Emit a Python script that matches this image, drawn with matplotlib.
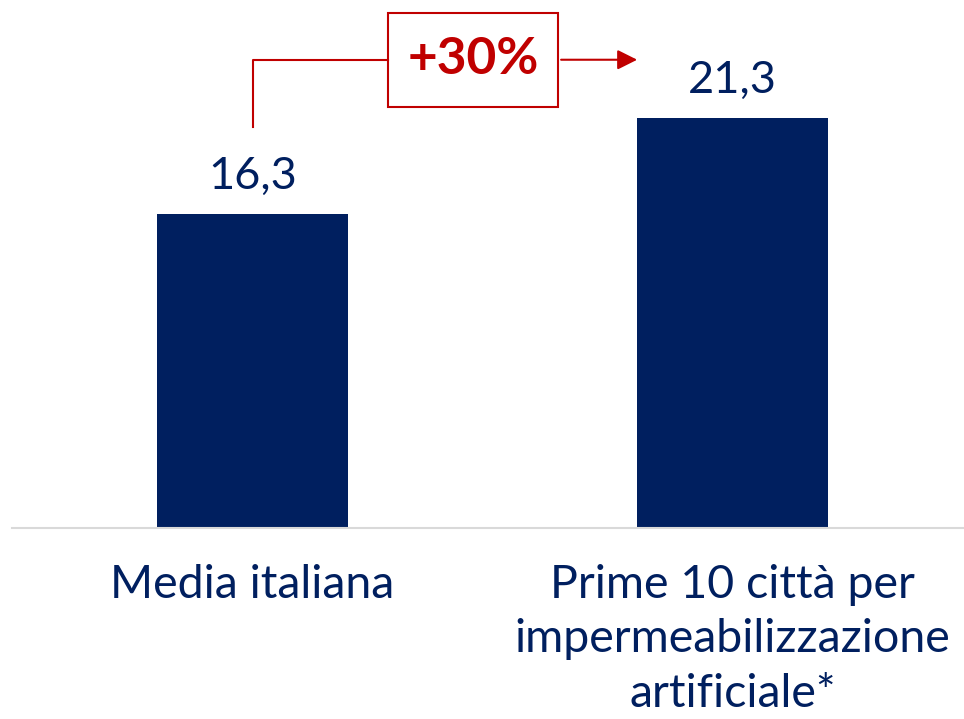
import matplotlib
matplotlib.use('Agg')
import matplotlib.pyplot as plt
from matplotlib.patches import Rectangle

categories = ['Media italiana', 'Prime 10 città per\nimpermeabilizzazione\nartificiale*']
values = [16.3, 21.3]
value_labels = ['16,3', '21,3']
delta_label = '+30%'

navy = '#001F5F'
red = '#C00000'
plt.rcParams['font.family'] = ['Lato', 'DejaVu Sans']

fig = plt.figure(figsize=(9.64, 7.19), dpi=100)
ax = fig.add_axes([12 / 964, 191 / 719, 952 / 964, 528 / 719])

x = list(range(len(values)))
ax.bar(x, values, width=0.398, color=navy)
for xi, v, lab in zip(x, values, value_labels):
    ax.text(xi, v + 1.3, lab, ha='center', va='baseline', fontsize=32.5, color=navy)

ax.set_xlim(-0.501, 1.482)
ax.set_ylim(0, 27.4)
ax.set_xticks(x)
ax.set_xticklabels(categories, fontsize=33.5, color=navy, linespacing=1.36)
ax.tick_params(axis='x', length=0, pad=26)
ax.set_yticks([])
for s in ['top', 'right', 'left']:
    ax.spines[s].set_visible(False)
ax.spines['bottom'].set_color('#D9D9D9')
ax.spines['bottom'].set_linewidth(1.5)

# growth annotation
line_y = 24.3
ax.plot([0, 0, 0.282], [20.8, line_y, line_y], color=red, lw=1.5, clip_on=False)
ax.annotate('', xy=(0.807, line_y), xytext=(0.637, line_y),
            arrowprops=dict(arrowstyle='-|>', color=red, lw=1.5, mutation_scale=30))
ax.add_patch(Rectangle((0.282, 21.86), 0.355, 4.88, fill=False, edgecolor=red, lw=1.5))
ax.text(0.46, 24.3, delta_label, ha='center', va='center', fontsize=37,
        fontweight='bold', color=red)

fig.savefig('out.png', dpi=100)
